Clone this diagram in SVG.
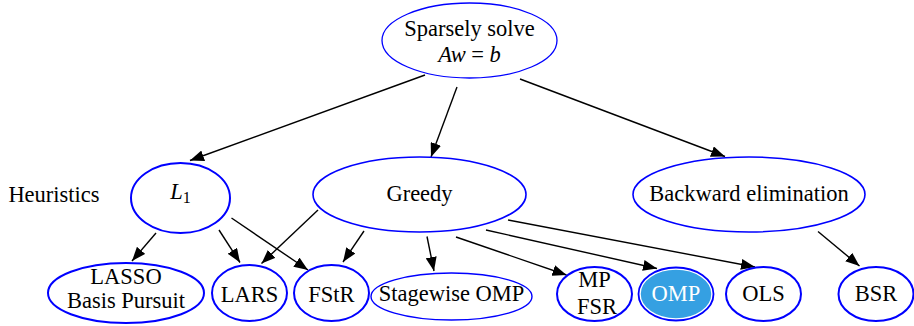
<svg xmlns="http://www.w3.org/2000/svg" width="914" height="326" viewBox="0 0 914 326">
<style>
text{font-family:"Liberation Serif","Times New Roman",serif;font-size:22.5px;fill:#000;text-anchor:middle}
.n{fill:#fff;stroke:#0000ff;stroke-width:1.6}
.t{stroke-width:2}
.e{stroke:#000;stroke-width:1.4;fill:none;marker-end:url(#ah)}
.i{font-style:italic}
</style>
<defs>
<marker id="ah" markerUnits="userSpaceOnUse" markerWidth="15" markerHeight="11" refX="14" refY="5.5" orient="auto">
<path d="M0,0 L14,5.5 L0,11 z" fill="#000"/>
</marker>
</defs>
<text x="54" y="202">Heuristics</text>
<g id="connectors">
<line class="e" x1="425" y1="75" x2="190" y2="160.5"/>
<line class="e" x1="457" y1="87" x2="431" y2="157"/>
<line class="e" x1="520" y1="79" x2="725" y2="156.5"/>
<line class="e" x1="156" y1="233" x2="132" y2="261"/>
<line class="e" x1="219" y1="230" x2="240" y2="262.5"/>
<line class="e" x1="231.5" y1="218" x2="308" y2="270"/>
<line class="e" x1="318" y1="210" x2="261.5" y2="263.5"/>
<line class="e" x1="364" y1="231" x2="343" y2="262"/>
<line class="e" x1="427" y1="236.5" x2="434" y2="271"/>
<line class="e" x1="456" y1="237" x2="566.5" y2="275"/>
<line class="e" x1="486" y1="230" x2="657" y2="268.5"/>
<line class="e" x1="508" y1="220" x2="755" y2="267"/>
<line class="e" x1="818" y1="231.5" x2="859.5" y2="266"/>
</g>
<g id="root">
<ellipse class="n" cx="469.5" cy="40.5" rx="87.5" ry="37.5" style="stroke-width:1.3"/>
<text x="469.5" y="36">Sparsely solve</text>
<text x="469.5" y="62"><tspan class="i">Aw</tspan> = <tspan class="i">b</tspan></text>
</g>
<g id="L1">
<ellipse class="n t" cx="180.5" cy="198" rx="49.5" ry="35"/>
<text x="180.5" y="199"><tspan class="i">L</tspan><tspan font-size="16" dy="4">1</tspan></text>
</g>
<g id="greedy">
<ellipse class="n" cx="419.5" cy="194.5" rx="106.5" ry="37.5"/>
<text x="419.5" y="201">Greedy</text>
</g>
<g id="backward">
<ellipse class="n" cx="749" cy="194.5" rx="116" ry="37.5"/>
<text x="749" y="201">Backward elimination</text>
</g>
<g id="lasso">
<ellipse class="n t" cx="126" cy="293" rx="78" ry="30"/>
<text x="126" y="284">LASSO</text>
<text x="126" y="308">Basis Pursuit</text>
</g>
<g id="lars">
<ellipse class="n t" cx="249.5" cy="293" rx="37.5" ry="28"/>
<text x="249.5" y="301.5">LARS</text>
</g>
<g id="fstr">
<ellipse class="n t" cx="331.5" cy="293" rx="37.5" ry="28"/>
<text x="331.5" y="301.5">FStR</text>
</g>
<g id="stagewise">
<ellipse class="n" cx="451.5" cy="296.5" rx="80.5" ry="23.5" style="stroke-width:1.4"/>
<text x="451.5" y="301">Stagewise OMP</text>
</g>
<g id="mp">
<ellipse class="n t" cx="594.5" cy="294" rx="37.5" ry="27"/>
<text x="594.5" y="287">MP</text>
<text x="597" y="314">FSR</text>
</g>
<g id="omp">
<ellipse cx="676" cy="294" rx="36" ry="25" fill="#35a0e2" stroke="#fff" stroke-width="1.5"/>
<ellipse cx="676" cy="294" rx="37.5" ry="26.5" fill="none" stroke="#0000ff" stroke-width="1.8"/>
<text x="676" y="301" style="fill:#fff">OMP</text>
</g>
<g id="ols">
<ellipse class="n t" cx="763.5" cy="294" rx="37.5" ry="27"/>
<text x="763.5" y="301">OLS</text>
</g>
<g id="bsr">
<ellipse class="n t" cx="876" cy="294" rx="37.5" ry="27"/>
<text x="876" y="301">BSR</text>
</g>
</svg>
